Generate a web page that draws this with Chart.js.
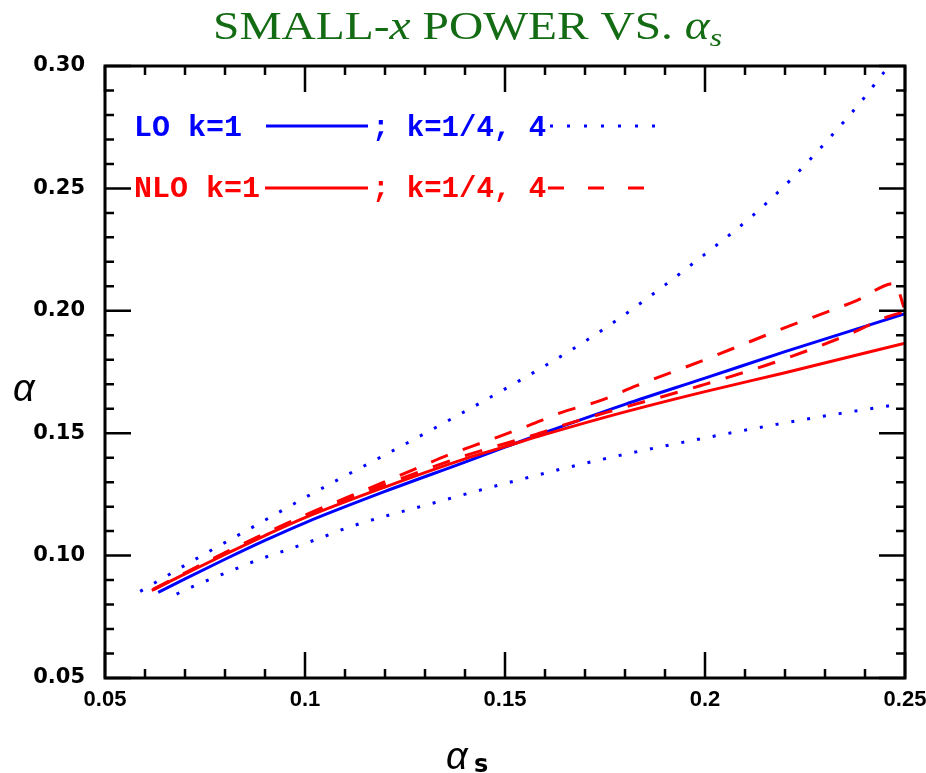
<!DOCTYPE html>
<html>
<head>
<meta charset="utf-8">
<script src="https://cdn.jsdelivr.net/npm/chart.js@4.4.1/dist/chart.umd.min.js"></script>
<style>
  body { margin: 0; background: #fff; }
  canvas { display: block; }
</style>
</head>
<body>
<canvas id="c" width="926" height="773"></canvas>
<script>
// valeurs (alpha_s -> alpha)
const loK1X = [0.0633, 0.07, 0.08, 0.09, 0.10, 0.12, 0.14, 0.15, 0.16, 0.18, 0.20, 0.22, 0.25];
const loK1Y = [0.0850, 0.0905, 0.0985, 0.1062, 0.1134, 0.1262, 0.1382, 0.1443, 0.1503, 0.1618, 0.1725, 0.1833, 0.1988];

const loHiX = [0.0588, 0.0742, 0.0896, 0.100, 0.1079, 0.1196, 0.135, 0.1543, 0.1696, 0.1806, 0.198, 0.212, 0.2217, 0.2308, 0.2396, 0.2448, 0.2462];
const loHiY = [0.0854, 0.1000, 0.1141, 0.1237, 0.1307, 0.1408, 0.1544, 0.1721, 0.1871, 0.1992, 0.2206, 0.2390, 0.2540, 0.2700, 0.2866, 0.2975, 0.3000];

const loLoX = [0.0679, 0.0720, 0.0803, 0.0885, 0.0953, 0.1035, 0.1117, 0.1317, 0.1529, 0.1742, 0.2004, 0.2179, 0.2354, 0.2488];
const loLoY = [0.0843, 0.0874, 0.0930, 0.0984, 0.1022, 0.1070, 0.1120, 0.1213, 0.1307, 0.1393, 0.1482, 0.1536, 0.1585, 0.1619];

const nloK1X = [0.0617, 0.07, 0.08, 0.09, 0.10, 0.12, 0.14, 0.15, 0.16, 0.18, 0.20, 0.22, 0.25];
const nloK1Y = [0.0858, 0.0925, 0.1005, 0.1082, 0.1155, 0.1280, 0.1395, 0.1445, 0.1495, 0.1587, 0.1670, 0.1747, 0.1868];

const nloHiX = [0.062, 0.08, 0.10, 0.115, 0.127, 0.1363, 0.1454, 0.1546, 0.1642, 0.1738, 0.1829, 0.2004, 0.2192, 0.2379, 0.2475, 0.2497];
const nloHiY = [0.0862, 0.1012, 0.1165, 0.1268, 0.1350, 0.1414, 0.1468, 0.1523, 0.1585, 0.1633, 0.1694, 0.1803, 0.1926, 0.2042, 0.2112, 0.2015];

const nloLoX = [0.062, 0.08, 0.10, 0.12, 0.14, 0.1571, 0.1654, 0.1754, 0.1988, 0.2175, 0.2363, 0.2454, 0.2496];
const nloLoY = [0.0860, 0.1010, 0.1162, 0.1290, 0.1408, 0.1492, 0.1537, 0.1585, 0.1694, 0.1790, 0.1906, 0.1974, 0.1995];

const xTickLabels = ['0.05', '0.1', '0.15', '0.2', '0.25'];
const yTickLabels = ['0.05', '0.10', '0.15', '0.20', '0.25', '0.30'];

const BLUE = '#0000ff';
const RED = '#ff0000';
const GREEN = '#136b13';

function pts(xs, ys) {
    return xs.map((x, i) => ({ x: x, y: ys[i] }));
}

function serie(xs, ys, color, dash) {
    return {
        data: pts(xs, ys),
        borderColor: color,
        borderWidth: 3,
        borderDash: dash,
        pointRadius: 0,
        showLine: true,
        fill: false,
        cubicInterpolationMode: 'monotone'
    };
}

// cadre, graduations internes, titres et légende dessinés à la main
const decor = {
    id: 'decor',
    afterDraw(chart) {
        const ctx = chart.ctx;
        const a = chart.chartArea;
        const sx = chart.scales.x;
        const sy = chart.scales.y;
        ctx.save();
        ctx.strokeStyle = '#000';

        // graduations
        ctx.lineWidth = 2.5;
        for (let i = 0; i <= 20; i++) {
            const px = sx.getPixelForValue(0.05 + i * 0.01);
            const len = i % 5 === 0 ? 26 : 9;
            ctx.beginPath();
            ctx.moveTo(px, a.bottom); ctx.lineTo(px, a.bottom - len);
            ctx.moveTo(px, a.top); ctx.lineTo(px, a.top + len);
            ctx.stroke();
        }
        for (let i = 0; i <= 25; i++) {
            const py = sy.getPixelForValue(0.05 + i * 0.01);
            const len = i % 5 === 0 ? 26 : 9;
            ctx.beginPath();
            ctx.moveTo(a.left, py); ctx.lineTo(a.left + len, py);
            ctx.moveTo(a.right, py); ctx.lineTo(a.right - len, py);
            ctx.stroke();
        }
        ctx.lineWidth = 3;
        ctx.strokeRect(a.left, a.top, a.right - a.left, a.bottom - a.top);

        // titre
        const parts = [
            ['SMALL-', ''], ['x', 'italic '], [' POWER VS. ', ''], ['\u03B1', 'italic '], ['s', 'italic ']
        ];
        let total = 0;
        const widths = parts.map((p, i) => {
            ctx.font = p[1] + (i === 4 ? '26px' : '39px') + ' "Liberation Serif"';
            const w = ctx.measureText(p[0]).width;
            total += w;
            return w;
        });
        const k = 509 / total;
        ctx.translate(213, 39);
        ctx.scale(k, 1);
        ctx.fillStyle = GREEN;
        ctx.textBaseline = 'alphabetic';
        let cx = 0;
        parts.forEach((p, i) => {
            ctx.font = p[1] + (i === 4 ? '26px' : '39px') + ' "Liberation Serif"';
            ctx.fillText(p[0], cx, i === 4 ? 7 : 0);
            cx += widths[i];
        });
        ctx.setTransform(1, 0, 0, 1, 0, 0);

        // titres des axes
        ctx.fillStyle = '#000';
        ctx.font = 'italic 38px "Liberation Sans"';
        ctx.fillText('\u03B1', 13, 401);
        ctx.fillText('\u03B1', 446, 769);
        ctx.font = 'bold 24px "DejaVu Sans"';
        ctx.fillText('s', 474, 772);

        // légende
        ctx.fillStyle = BLUE;
        ctx.font = 'bold 30px "Liberation Mono"';
        ctx.fillText('LO k=1', 134, 136);
        ctx.font = 'bold 29px "Liberation Mono"';
        ctx.fillText('; k=1/4, 4', 372, 136);
        ctx.fillStyle = RED;
        ctx.font = 'bold 30px "Liberation Mono"';
        ctx.fillText('NLO k=1', 134, 197);
        ctx.font = 'bold 29px "Liberation Mono"';
        ctx.fillText('; k=1/4, 4', 372, 197);

        ctx.lineWidth = 3;
        ctx.strokeStyle = BLUE;
        ctx.setLineDash([]);
        ctx.beginPath(); ctx.moveTo(266, 126); ctx.lineTo(368, 126); ctx.stroke();
        ctx.setLineDash([3, 14]);
        ctx.beginPath(); ctx.moveTo(550, 126); ctx.lineTo(662, 126); ctx.stroke();
        ctx.strokeStyle = RED;
        ctx.setLineDash([]);
        ctx.beginPath(); ctx.moveTo(265, 188); ctx.lineTo(368, 188); ctx.stroke();
        ctx.setLineDash([16, 24]);
        ctx.beginPath(); ctx.moveTo(548, 188); ctx.lineTo(650, 188); ctx.stroke();
        ctx.restore();
    }
};

new Chart(document.getElementById('c'), {
    type: 'scatter',
    data: {
        datasets: [
            serie(nloK1X, nloK1Y, RED, []),
            serie(nloHiX, nloHiY, RED, [18, 16]),
            serie(nloLoX, nloLoY, RED, [18, 16]),
            serie(loK1X, loK1Y, BLUE, []),
            serie(loHiX, loHiY, BLUE, [3, 13]),
            serie(loLoX, loLoY, BLUE, [3, 13])
        ]
    },
    options: {
        responsive: false,
        animation: false,
        layout: { padding: { left: 0, right: 21, top: 66, bottom: 0 } },
        plugins: {
            legend: { display: false },
            tooltip: { enabled: false }
        },
        scales: {
            x: {
                type: 'linear',
                min: 0.05,
                max: 0.25,
                grid: { display: false, drawTicks: false },
                border: { display: false },
                afterFit: s => {
                    s.height = 95;
                    s.paddingLeft = 0;
                    s.paddingRight = 0;
                },
                afterBuildTicks: s => {
                    s.ticks = xTickLabels.map(t => ({ value: parseFloat(t) }));
                },
                ticks: {
                    color: '#000',
                    font: { family: 'Liberation Sans', weight: 'bold', size: 22 },
                    padding: 9,
                    maxRotation: 0,
                    autoSkip: false,
                    callback: (v, i) => xTickLabels[i]
                }
            },
            y: {
                type: 'linear',
                min: 0.05,
                max: 0.30,
                grid: { display: false, drawTicks: false },
                border: { display: false },
                afterFit: s => {
                    s.width = 105;
                    s.paddingTop = 0;
                    s.paddingBottom = 0;
                },
                afterBuildTicks: s => {
                    s.ticks = yTickLabels.map(t => ({ value: parseFloat(t) }));
                },
                ticks: {
                    color: '#000',
                    font: { family: 'DejaVu Sans', weight: 'bold', size: 21 },
                    padding: 20,
                    autoSkip: false,
                    callback: (v, i) => yTickLabels[i]
                }
            }
        }
    },
    plugins: [decor]
});
</script>
</body>
</html>
